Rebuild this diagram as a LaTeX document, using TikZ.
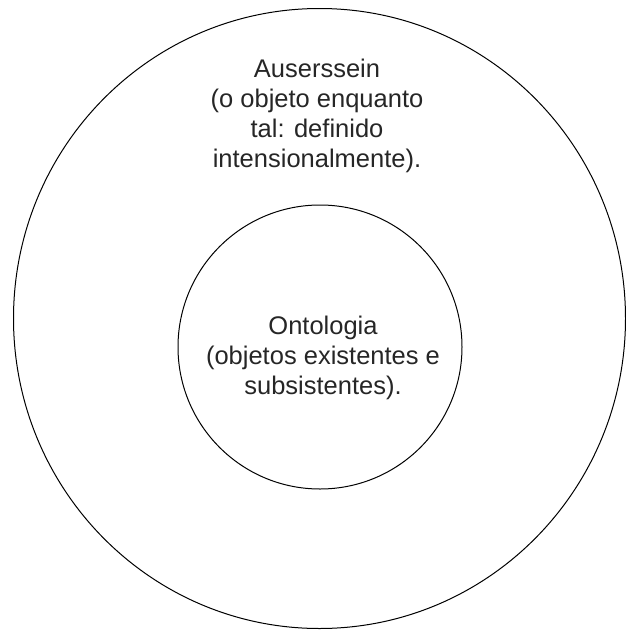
\documentclass[tikz,border=0pt]{standalone}
\usepackage{fontspec}
\setmainfont{Liberation Sans}
\tikzset{
  ring/.style={draw=black, line width=1pt, fill=none},
  caption/.style={align=center, font=\fontsize{25.5pt}{29.7pt}\selectfont, text=black!85, inner sep=0pt}
}
\begin{document}
\begin{tikzpicture}[x=1pt, y=-1pt]
  \useasboundingbox (0,0) rectangle (626,632);
  % outer region and its label (base anchor sits on the last line)
  \draw[ring] (319.5,318.5) ellipse [x radius=306, y radius=310];
  \node[caption, anchor=base] (outer) at (317,167)
    {Auserssein\\(o objeto enquanto\\tal: definido\\intensionalmente).};
  % inner region and its label
  \draw[ring] (320,347) circle [radius=142];
  \node[caption, anchor=base] (inner) at (323,394)
    {Ontologia\\(objetos existentes e\\subsistentes).};
\end{tikzpicture}
\end{document}
